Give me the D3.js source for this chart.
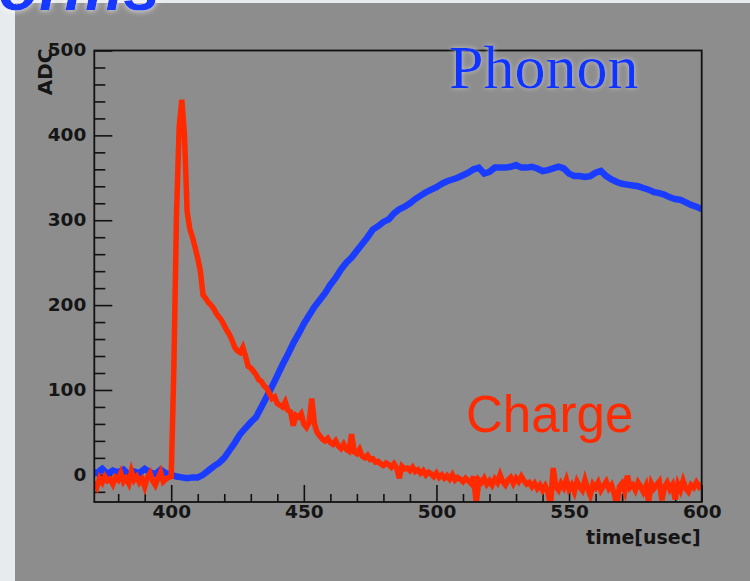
<!DOCTYPE html>
<html>
<head>
<meta charset="utf-8">
<script src="https://cdn.jsdelivr.net/npm/d3@7"></script>
<style>
  html, body { margin: 0; padding: 0; background: #e8ebed; }
  svg { display: block; }
</style>
</head>
<body>
<script>
// Charge channel: one sample per microsecond, starting at 371 usec
const chargeStart = 371;
const chargeStep = 1;
const chargeValues = [
  -8, -14, -4, -9, -2, -7, -5, -11, -3, -6,
  2, -8, -4, -10, 4, -6, -2, -9, -5, -14,
  -3, 2, -7, -12, -4, 3, -8, -5, -3, -2,
  127, 308, 410, 442, 400, 310, 290, 280, 268, 255,
  240, 212, 208, 203, 200, 196, 190, 186, 182, 176,
  170, 165, 158, 150, 146, 144, 150, 140, 128, 126,
  122, 118, 112, 110, 105, 102, 96, 90, 92, 84,
  82, 80, 86, 76, 74, 58, 70, 68, 72, 60,
  56, 62, 90, 60, 50, 46, 42, 40, 43, 38,
  36, 40, 34, 31, 36, 30, 28, 48, 27, 25,
  30, 22, 20, 23, 18, 19, 15, 16, 13, 11,
  14, 12, 9, 13, 8, -4, 10, 7, 8, 5,
  9, 4, 6, 2, 5, 0, 3, 1, -2, 2,
  -3, 0, -4, -1, -5, 0, -6, -3, -5, -8,
  -4, -7, -10, -2, -34, -6, -9, -4, -11, -7,
  -12, -5, -9, 0, -8, -12, -6, -3, -10, -4,
  -8, -2, -7, -11, -9, -14, -10, -16, -12, -18,
  -13, -20, -36, 8, -14, -18, -10, -15, -6, -17,
  -12, -20, -8, -14, -18, -6, -16, -24, -11, -15,
  -9, -18, -13, -8, -16, -12, -22, -36, -14, -10,
  -19, -1, -15, -12, -18, -9, -14, -20, -13, -32,
  -10, -16, -12, -8, -30, -14, -9, -17, -12, -29,
  -11, -18, -7, -16, -20, -12, -15, -9, -14, -10
];

// Phonon channel: one sample every 2 usec, starting at 370 usec
const phononStart = 370;
const phononStep = 2;
const phononValues = [
  4, 2, 7, 1, 5, 3, 6, 0, 4, 2,
  7, 3, 1, 6, 2, 0, -2, -3, -4, -3,
  -3, 0, 5, 10, 14, 20, 29, 38, 48, 55,
  62, 68, 80, 92, 104, 117, 130, 142, 155, 166,
  178, 188, 198, 206, 214, 224, 232, 242, 250, 256,
  264, 272, 280, 289, 293, 298, 301, 308, 313, 316,
  320, 325, 329, 333, 336, 339, 343, 346, 348, 350,
  353, 356, 360, 362, 355, 357, 362, 362, 362, 363,
  365, 362, 362, 363, 361, 358, 359, 361, 363, 361,
  355, 352, 352, 351, 352, 356, 358, 352, 348, 345,
  343, 342, 341, 340, 338, 336, 333, 332, 330, 327,
  325, 324, 321, 318, 316, 313
];

const xTicks = [400, 450, 500, 550, 600];
const xMinorTicks = [380, 390, 410, 420, 430, 440, 460, 470, 480, 490, 510, 520, 530, 540, 560, 570, 580, 590];
const yTicks = [0, 100, 200, 300, 400, 500];
const yMinorTicks = [-20, 20, 40, 60, 80, 120, 140, 160, 180, 220, 240, 260, 280, 320, 340, 360, 380, 420, 440, 460, 480];
const xTitle = "time[usec]";
const yTitle = "ADC";
const phononLabel = "Phonon";
const chargeLabel = "Charge";
const slideTitle = "Waveforms";

const W = 750, H = 581;
const frame = { left: 94.3, right: 701.7, top: 50.5, bottom: 502 };

const svg = d3.select("body").append("svg")
  .attr("width", W).attr("height", H);

const defs = svg.append("defs");

// soft light halo behind large labels
function halo(id, color, opacity, blur) {
  const f = defs.append("filter").attr("id", id)
    .attr("x", "-20%").attr("y", "-40%").attr("width", "140%").attr("height", "180%");
  f.append("feGaussianBlur").attr("in", "SourceAlpha").attr("stdDeviation", blur).attr("result", "b");
  f.append("feFlood").attr("flood-color", color).attr("flood-opacity", opacity).attr("result", "c");
  f.append("feComposite").attr("in", "c").attr("in2", "b").attr("operator", "in").attr("result", "s");
  const m = f.append("feMerge");
  m.append("feMergeNode").attr("in", "s");
  m.append("feMergeNode").attr("in", "SourceGraphic");
}
halo("glowGrey", "#d6d6d6", 0.75, 2.5);
halo("glowWhite", "#ffffff", 0.9, 3);

defs.append("clipPath").attr("id", "plotClip")
  .append("rect")
  .attr("x", frame.left).attr("y", frame.top)
  .attr("width", frame.right - frame.left).attr("height", frame.bottom - frame.top);

// light page and grey canvas
svg.append("rect").attr("width", W).attr("height", H).attr("fill", "#e8ebed");
svg.append("rect").attr("x", 15).attr("y", 3).attr("width", W - 15).attr("height", H - 3).attr("fill", "#8d8d8d");

// slide heading, mostly above the visible area
svg.append("text")
  .attr("x", 160).attr("y", 10)
  .attr("text-anchor", "end")
  .attr("font-family", "'Liberation Sans', Arial, sans-serif")
  .attr("font-weight", "bold").attr("font-style", "italic")
  .attr("font-size", 66)
  .attr("fill", "#1538ff")
  .attr("filter", "url(#glowWhite)")
  .text(slideTitle);

const x = d3.scaleLinear().domain([371, 600]).range([frame.left, frame.right]);
const y = d3.scaleLinear().domain([-32, 500]).range([frame.bottom, frame.top]);

const tickFont = "'DejaVu Sans', Verdana, sans-serif";

// y axis: major and minor ticks pointing inward
const yAxisG = svg.append("g").attr("transform", `translate(${frame.left},0)`);
yAxisG.call(d3.axisLeft(y).tickValues(yMinorTicks).tickSize(-11).tickSizeOuter(0).tickFormat(""));
yAxisG.append("g").call(d3.axisLeft(y).tickValues(yTicks).tickSize(-18).tickSizeOuter(0).tickPadding(8).tickFormat(d3.format("d")));
yAxisG.selectAll("path.domain").remove();
yAxisG.selectAll("line").attr("stroke", "#111").attr("stroke-width", 1.6);
yAxisG.selectAll("text")
  .attr("font-family", tickFont).attr("font-weight", "bold")
  .attr("font-size", 18.5).attr("fill", "#151515").attr("dy", "0.28em");

// x axis
const xAxisG = svg.append("g").attr("transform", `translate(0,${frame.bottom})`);
xAxisG.call(d3.axisBottom(x).tickValues(xMinorTicks).tickSize(-8).tickSizeOuter(0).tickFormat(""));
xAxisG.append("g").call(d3.axisBottom(x).tickValues(xTicks).tickSize(-17).tickSizeOuter(0).tickPadding(3).tickFormat(d3.format("d")));
xAxisG.selectAll("path.domain").remove();
xAxisG.selectAll("line").attr("stroke", "#111").attr("stroke-width", 1.6);
xAxisG.selectAll("text")
  .attr("font-family", tickFont).attr("font-weight", "bold")
  .attr("font-size", 18.5).attr("fill", "#151515");

// axis titles
svg.append("text")
  .attr("x", frame.right - 1).attr("y", 544)
  .attr("text-anchor", "end")
  .attr("font-family", tickFont).attr("font-weight", "bold")
  .attr("font-size", 19).attr("fill", "#151515")
  .text(xTitle);

svg.append("text")
  .attr("transform", `translate(52,${frame.top - 2}) rotate(-90)`)
  .attr("text-anchor", "end")
  .attr("font-family", tickFont).attr("font-weight", "bold")
  .attr("font-size", 20).attr("fill", "#151515")
  .text(yTitle);

// traces
const plot = svg.append("g").attr("clip-path", "url(#plotClip)");

const phononLine = d3.line()
  .x((d, i) => x(phononStart + i * phononStep))
  .y(d => y(d));
const chargeLine = d3.line()
  .x((d, i) => x(chargeStart + i * chargeStep))
  .y(d => y(d));

plot.append("path")
  .datum(phononValues)
  .attr("d", phononLine)
  .attr("fill", "none")
  .attr("stroke", "#1a3cff")
  .attr("stroke-width", 6.5)
  .attr("stroke-linejoin", "miter");

plot.append("path")
  .datum(chargeValues)
  .attr("d", chargeLine)
  .attr("fill", "none")
  .attr("stroke", "#ff2a00")
  .attr("stroke-width", 5.5)
  .attr("stroke-linejoin", "miter");

// frame box
svg.append("rect")
  .attr("x", frame.left).attr("y", frame.top)
  .attr("width", frame.right - frame.left).attr("height", frame.bottom - frame.top)
  .attr("fill", "none").attr("stroke", "#111").attr("stroke-width", 1.8);

// series labels
svg.append("text")
  .attr("x", 449).attr("y", 88)
  .attr("font-family", "'Liberation Serif', 'Times New Roman', serif")
  .attr("font-size", 62)
  .attr("fill", "#0f36ff")
  .attr("filter", "url(#glowGrey)")
  .text(phononLabel);

svg.append("text")
  .attr("x", 466).attr("y", 432)
  .attr("font-family", "'Liberation Sans', Arial, sans-serif")
  .attr("font-size", 51)
  .attr("fill", "#ff2a00")
  .text(chargeLabel);
</script>
</body>
</html>
